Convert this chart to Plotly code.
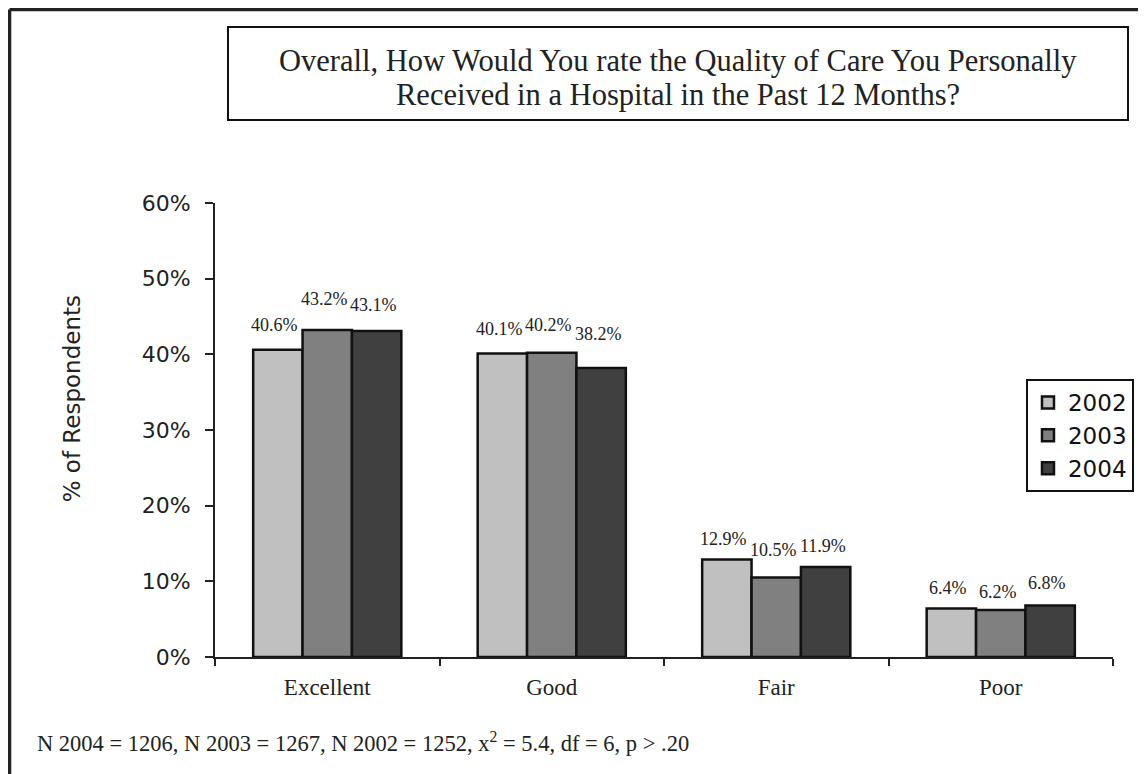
import plotly.graph_objects as go

# ---------------- data ----------------
categories = ["Excellent", "Good", "Fair", "Poor"]
years = ["2002", "2003", "2004"]
values_2002 = [40.6, 40.1, 12.9, 6.4]
values_2003 = [43.2, 40.2, 10.5, 6.2]
values_2004 = [43.1, 38.2, 11.9, 6.8]
y_ticks = [0, 10, 20, 30, 40, 50, 60]
y_tick_labels = ["0%", "10%", "20%", "30%", "40%", "50%", "60%"]
title_line_1 = "Overall, How Would You rate the Quality of Care You Personally"
title_line_2 = "Received in a Hospital in the Past 12 Months?"
y_title = "% of Respondents"
footnote = "N 2004 = 1206, N 2003 = 1267, N 2002 = 1252, x<sup>2</sup> = 5.4, df = 6, p > .20"

# ---------------- styles ----------------
series_values = [values_2002, values_2003, values_2004]
colors = ["#C0C0C0", "#808080", "#404040"]
# pixel lift of each data label centre above its bar top (per series, per category)
label_lift = [[25, 25, 20, 21],
              [31, 28, 28, 18],
              [26, 34, 21, 23]]
SERIF = "Liberation Serif, Times New Roman, serif"
SANS = "DejaVu Sans, Verdana, sans-serif"
INK = "#222222"
bargap = 0.34
bar_w = (1 - bargap) / 3

fig = go.Figure()
for j, (yr, vals) in enumerate(zip(years, series_values)):
    fig.add_trace(go.Bar(
        name=yr, x=categories, y=vals, legendgroup=yr,
        marker=dict(color=colors[j], line=dict(color="#111111", width=2.5)),
        hoverinfo="skip",
    ))

annotations = []
for j, vals in enumerate(series_values):
    for i, v in enumerate(vals):
        annotations.append(dict(
            x=i + (j - 1) * bar_w, y=v, xref="x", yref="y",
            text=f"{v:.1f}%", showarrow=False, yanchor="middle",
            yshift=label_lift[j][i], xshift=-3,
            font=dict(family=SERIF, size=18, color=INK),
        ))

# title text (two lines placed separately)
for txt, yy in ((title_line_1, 1.3128), (title_line_2, 1.2379)):
    annotations.append(dict(
        x=0.5156, y=yy, xref="paper", yref="paper",
        text=txt, showarrow=False, xanchor="center", yanchor="middle",
        font=dict(family=SERIF, size=30.5, color=INK),
    ))
# y axis title
annotations.append(dict(
    x=-0.159, y=0.568, xref="paper", yref="paper", text=y_title,
    textangle=-90, showarrow=False, xanchor="center", yanchor="middle",
    font=dict(family=SANS, size=23, color=INK),
))
# footnote
annotations.append(dict(
    x=-0.2004, y=-0.187, xref="paper", yref="paper", text=footnote,
    showarrow=False, xanchor="left", yanchor="middle",
    font=dict(family=SERIF, size=22.5, color=INK),
))

shapes = [
    # title box
    dict(type="rect", xref="paper", yref="paper", x0=0.01448, x1=1.0167,
         y0=1.1828, y1=1.3877, line=dict(color="#111111", width=2)),
    # outer frame (top and left)
    dict(type="line", xref="paper", yref="paper", x0=-0.2288, x1=1.06,
         y0=1.4262, y1=1.4262, line=dict(color=INK, width=3.5)),
    dict(type="line", xref="paper", yref="paper", x0=-0.2288, x1=-0.2288,
         y0=1.4262, y1=-0.30, line=dict(color=INK, width=3.5)),
]

fig.update_layout(
    width=1146, height=774,
    margin=dict(l=207, r=41, t=195, b=125),
    paper_bgcolor="white", plot_bgcolor="white",
    barmode="group", bargap=bargap, bargroupgap=0,
    showlegend=True,
    legend=dict(x=0.9031, y=0.6123, xanchor="left", yanchor="top",
                bgcolor="white", bordercolor="#111111", borderwidth=2,
                font=dict(family=SANS, size=23, color="#111111"),
                tracegroupgap=11, traceorder="normal"),
    xaxis=dict(showline=True, linecolor=INK, linewidth=2,
               ticks="outside", tickson="boundaries", ticklen=7,
               tickcolor=INK, tickwidth=2, ticklabelstandoff=8,
               tickfont=dict(family=SERIF, size=23, color=INK),
               showgrid=False, zeroline=False, fixedrange=True),
    yaxis=dict(range=[0, 60], tickvals=y_ticks, ticktext=y_tick_labels,
               showline=True, linecolor=INK, linewidth=2,
               ticks="outside", ticklen=8, tickcolor=INK, tickwidth=2,
               ticklabelstandoff=10,
               tickfont=dict(family=SANS, size=22, color=INK),
               showgrid=False, zeroline=False, fixedrange=True),
    annotations=annotations,
    shapes=shapes,
)

fig.write_html("out.html")
